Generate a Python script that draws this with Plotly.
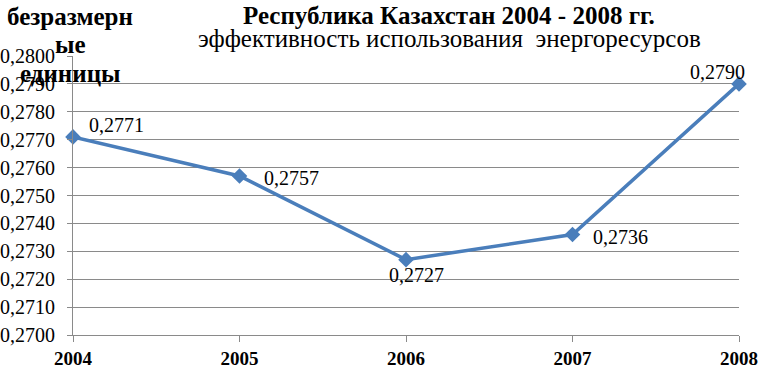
import plotly.graph_objects as go

years = [2004, 2005, 2006, 2007, 2008]
values = [0.2771, 0.2757, 0.2727, 0.2736, 0.2790]
tick_vals = [0.2700, 0.2710, 0.2720, 0.2730, 0.2740, 0.2750, 0.2760, 0.2770, 0.2780, 0.2790, 0.2800]
title_line1 = "Республика Казахстан 2004 - 2008 гг."
title_line2 = "эффективность использования  энергоресурсов"
ytitle_lines = ["безразмерн", "ые", "единицы"]

# label offsets (px) per point: (xshift, yshift, xanchor)
label_pos = [(14, 12, "left"), (22, -2, "left"), (10, -15, "center"), (18, -2, "left"), (-22, 12, "center")]

FONT = "Liberation Serif, Times New Roman, serif"
BLUE = "#4A7EBB"
GRID = "#8A8A8A"

L, R, T, B = 73, 20, 56, 32
W, H = 759, 367
PW, PH = W - L - R, H - T - B


def px_x(x):
    return (x - L) / PW


def px_y(y):
    return (H - B - y) / PH


fig = go.Figure()
fig.add_trace(go.Scatter(
    x=years, y=values, mode="lines+markers",
    line=dict(color=BLUE, width=3.5),
    marker=dict(symbol="diamond", size=12, color=BLUE),
    cliponaxis=False, showlegend=False, hoverinfo="skip",
))

annotations = []
for (x, v, (dx, dy, xa)) in zip(years, values, label_pos):
    annotations.append(dict(
        x=x, y=v, xref="x", yref="y", text=f"{v:.4f}".replace(".", ","),
        showarrow=False, xshift=dx, yshift=dy, xanchor=xa, yanchor="middle",
        font=dict(family=FONT, size=20, color="#000000"),
    ))

annotations.append(dict(x=px_x(449), y=px_y(16), xref="paper", yref="paper", text="<b>" + title_line1 + "</b>",
                        showarrow=False, xanchor="center", yanchor="middle",
                        font=dict(family=FONT, size=25, color="#000000")))
annotations.append(dict(x=px_x(449), y=px_y(39), xref="paper", yref="paper", text=title_line2,
                        showarrow=False, xanchor="center", yanchor="middle",
                        font=dict(family=FONT, size=25, color="#000000")))
for t, ypx in zip(ytitle_lines, [17, 45, 73]):
    annotations.append(dict(x=px_x(70), y=px_y(ypx), xref="paper", yref="paper",
                            text="<b>" + t + "</b>", showarrow=False, xanchor="center", yanchor="middle",
                            font=dict(family=FONT, size=25, color="#000000")))

fig.update_layout(
    width=W, height=H,
    margin=dict(l=L, r=R, t=T, b=B),
    paper_bgcolor="white", plot_bgcolor="white",
    separators=", ",
    annotations=annotations,
    xaxis=dict(
        range=[2004, 2008], tickvals=years, ticktext=[f"<b>{y}</b>" for y in years],
        showgrid=False, zeroline=False, automargin=False,
        showline=True, linecolor=GRID, linewidth=1,
        ticks="outside", ticklen=6, tickcolor=GRID,
        tickfont=dict(family=FONT, size=19, color="#000000"),
    ),
    yaxis=dict(
        range=[0.2700, 0.2800], tickvals=tick_vals, tickformat=".4f",
        showgrid=True, gridcolor=GRID, gridwidth=1, zeroline=False, automargin=False,
        showline=True, linecolor=GRID, linewidth=1,
        ticks="outside", ticklen=5, tickcolor=GRID,
        ticklabelstandoff=8,
        tickfont=dict(family=FONT, size=20, color="#000000"),
    ),
)

fig.write_html("out.html", config={"displayModeBar": False},
               post_script="document.body.style.margin='0';document.body.style.overflow='hidden';")
